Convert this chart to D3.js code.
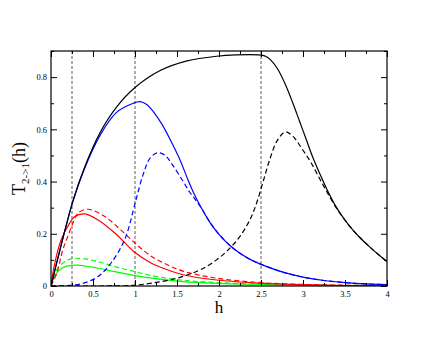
<!DOCTYPE html>
<html>
<head>
<meta charset="utf-8">
<script src="https://cdn.jsdelivr.net/npm/d3@7"></script>
<style>
  body { margin: 0; background: #fff; }
  text { font-family: "Liberation Serif", "DejaVu Serif", serif; }
</style>
</head>
<body>
<svg id="chart" width="436" height="337"></svg>
<script>
// curves: h values and T values
var hBlack = [0, 0.1, 0.26, 0.4, 0.58, 0.78, 1.0, 1.3, 1.62, 1.97, 2.2, 2.5, 2.56, 2.62, 2.7, 2.79, 2.88, 2.96, 3.04, 3.12, 3.2, 3.3, 3.4, 3.5, 3.6, 3.7, 3.8, 3.9, 4.0];
var tBlack = [0, 0.13, 0.325, 0.455, 0.585, 0.685, 0.76, 0.825, 0.862, 0.88, 0.885, 0.884, 0.879, 0.864, 0.83, 0.772, 0.7, 0.63, 0.56, 0.49, 0.43, 0.36, 0.3, 0.252, 0.212, 0.178, 0.148, 0.12, 0.094];

var hBlackDash = [0, 0.5, 0.9, 1.0, 1.18, 1.5, 1.77, 1.97, 2.13, 2.25, 2.37, 2.45, 2.53, 2.61, 2.69, 2.79, 2.88, 3.0, 3.1, 3.2, 3.3, 3.4, 3.5, 3.6, 3.7, 3.8, 3.9, 4.0];
var tBlackDash = [0, 0, 0.001, 0.003, 0.01, 0.03, 0.061, 0.1, 0.145, 0.19, 0.255, 0.32, 0.405, 0.49, 0.555, 0.59, 0.573, 0.52, 0.47, 0.41, 0.352, 0.297, 0.252, 0.212, 0.178, 0.148, 0.12, 0.094];

var hBlue = [0, 0.1, 0.26, 0.4, 0.58, 0.78, 0.98, 1.06, 1.14, 1.22, 1.32, 1.42, 1.54, 1.62, 1.7, 1.8, 1.9, 2.0, 2.13, 2.25, 2.37, 2.5, 2.77, 3.0, 3.25, 3.5, 3.75, 4.0];
var tBlue = [0, 0.13, 0.322, 0.45, 0.575, 0.665, 0.70, 0.706, 0.695, 0.667, 0.62, 0.56, 0.48, 0.415, 0.355, 0.293, 0.24, 0.198, 0.155, 0.125, 0.102, 0.083, 0.052, 0.034, 0.021, 0.013, 0.008, 0.005];

var hBlueDash = [0, 0.25, 0.4, 0.56, 0.72, 0.88, 0.98, 1.02, 1.1, 1.18, 1.27, 1.36, 1.45, 1.57, 1.65, 1.72, 1.8, 1.9, 2.0, 2.13, 2.25, 2.37, 2.5, 2.77, 3.0, 3.25, 3.5, 3.75, 4.0];
var tBlueDash = [0, 0.003, 0.012, 0.036, 0.09, 0.18, 0.29, 0.34, 0.43, 0.49, 0.51, 0.5, 0.462, 0.402, 0.36, 0.33, 0.293, 0.24, 0.198, 0.155, 0.125, 0.102, 0.083, 0.052, 0.034, 0.021, 0.013, 0.008, 0.005];

var hRed = [0, 0.04, 0.12, 0.22, 0.28, 0.4, 0.56, 0.76, 1.0, 1.18, 1.36, 1.57, 1.97, 2.49, 3.0, 3.5, 4.0];
var tRed = [0, 0.08, 0.176, 0.24, 0.265, 0.276, 0.253, 0.203, 0.128, 0.09, 0.065, 0.043, 0.023, 0.011, 0.005, 0.002, 0.001];

var hRedDash = [0, 0.07, 0.14, 0.2, 0.26, 0.32, 0.44, 0.64, 0.83, 1.0, 1.18, 1.36, 1.57, 1.97, 2.49, 3.0, 3.5, 4.0];
var tRedDash = [0, 0.05, 0.138, 0.19, 0.24, 0.279, 0.294, 0.266, 0.215, 0.164, 0.117, 0.085, 0.057, 0.03, 0.013, 0.006, 0.003, 0.0015];

var hGreen = [0, 0.04, 0.12, 0.2, 0.32, 0.56, 0.76, 1.0, 1.18, 1.57, 2.0, 2.5, 3.0, 4.0];
var tGreen = [0, 0.036, 0.066, 0.077, 0.08, 0.068, 0.055, 0.04, 0.031, 0.017, 0.01, 0.006, 0.003, 0.001];

var hGreenDash = [0, 0.08, 0.2, 0.28, 0.4, 0.56, 0.76, 1.0, 1.18, 1.57, 2.0, 2.5, 3.0, 4.0];
var tGreenDash = [0, 0.068, 0.1, 0.106, 0.104, 0.093, 0.074, 0.055, 0.041, 0.022, 0.013, 0.007, 0.004, 0.0015];

var markers = [0.25, 1, 2.5];   // vertical dashed lines
var xTicks = [0, 0.5, 1, 1.5, 2, 2.5, 3, 3.5, 4];
var xMinor = [0.25, 0.75, 1.25, 1.75, 2.25, 2.75, 3.25, 3.75];
var yTicks = [0, 0.2, 0.4, 0.6, 0.8];
var yMinor = [0.1, 0.3, 0.5, 0.7, 0.9];

var padding = {t: 51, r: 49, b: 51, l: 51};

var svg = d3.select("#chart");
var W = +svg.attr("width"), H = +svg.attr("height");
var cw = W - padding.l - padding.r;
var ch = H - padding.t - padding.b;

var x = d3.scaleLinear().domain([0, 4]).range([0, cw]);
var y = d3.scaleLinear().domain([0, 0.9]).range([ch, 0]);

var g = svg.append("g")
    .attr("transform", "translate(" + [padding.l, padding.t] + ")");

svg.append("defs").append("clipPath").attr("id", "plotclip")
  .append("rect").attr("width", cw).attr("height", ch);

// vertical markers
g.selectAll(".marker")
  .data(markers)
  .enter().append("line")
    .attr("x1", function(d) { return x(d); })
    .attr("x2", function(d) { return x(d); })
    .attr("y1", 0)
    .attr("y2", ch)
    .attr("stroke", "#333")
    .attr("stroke-width", 0.8)
    .attr("stroke-dasharray", "3,2");

var line = d3.line()
    .x(function(d) { return x(d[0]); })
    .y(function(d) { return y(d[1]); })
    .curve(d3.curveCatmullRom.alpha(0.5));

function zip(a, b) { return a.map(function(v, i) { return [v, b[i]]; }); }

var series = [
  {h: hGreenDash, t: tGreenDash, c: "#00ff00", dash: "5,3"},
  {h: hGreen, t: tGreen, c: "#00ff00", dash: null},
  {h: hRedDash, t: tRedDash, c: "#ff0000", dash: "5,3"},
  {h: hRed, t: tRed, c: "#ff0000", dash: null},
  {h: hBlueDash, t: tBlueDash, c: "#0000ff", dash: "5,3"},
  {h: hBlue, t: tBlue, c: "#0000ff", dash: null},
  {h: hBlackDash, t: tBlackDash, c: "#000000", dash: "5,3"},
  {h: hBlack, t: tBlack, c: "#000000", dash: null}
];

g.append("g").attr("clip-path", "url(#plotclip)")
  .selectAll(".curve")
  .data(series)
  .enter().append("path")
    .attr("class", "curve")
    .attr("d", function(d) { return line(zip(d.h, d.t)); })
    .attr("fill", "none")
    .attr("stroke", function(d) { return d.c; })
    .attr("stroke-width", 1.2)
    .attr("stroke-dasharray", function(d) { return d.dash; });

// axes, ticks pointing inwards
var fmt = d3.format("~g");
function styleAxis(sel) {
  sel.select(".domain").remove();
  sel.selectAll("line").attr("stroke", "#000");
  sel.selectAll("text").attr("font-size", 8.5).attr("fill", "#000")
     .attr("font-family", "Liberation Serif, serif");
}

g.append("g").attr("transform", "translate(0," + ch + ")")
  .call(d3.axisBottom(x).tickValues(xTicks).tickFormat(fmt).tickSizeInner(-6).tickSizeOuter(0).tickPadding(5))
  .call(styleAxis);
g.append("g").attr("transform", "translate(0," + ch + ")")
  .call(d3.axisBottom(x).tickValues(xMinor).tickFormat("").tickSizeInner(-3).tickSizeOuter(0))
  .call(styleAxis);
g.append("g")
  .call(d3.axisTop(x).tickValues(xTicks).tickFormat("").tickSizeInner(-6).tickSizeOuter(0))
  .call(styleAxis);
g.append("g")
  .call(d3.axisTop(x).tickValues(xMinor).tickFormat("").tickSizeInner(-3).tickSizeOuter(0))
  .call(styleAxis);

g.append("g")
  .call(d3.axisLeft(y).tickValues(yTicks).tickFormat(fmt).tickSizeInner(-6).tickSizeOuter(0).tickPadding(4))
  .call(styleAxis);
g.append("g")
  .call(d3.axisLeft(y).tickValues(yMinor).tickFormat("").tickSizeInner(-3).tickSizeOuter(0))
  .call(styleAxis);
g.append("g").attr("transform", "translate(" + cw + ",0)")
  .call(d3.axisRight(y).tickValues(yTicks).tickFormat("").tickSizeInner(-6).tickSizeOuter(0))
  .call(styleAxis);
g.append("g").attr("transform", "translate(" + cw + ",0)")
  .call(d3.axisRight(y).tickValues(yMinor).tickFormat("").tickSizeInner(-3).tickSizeOuter(0))
  .call(styleAxis);

// frame
g.append("rect")
  .attr("width", cw)
  .attr("height", ch)
  .attr("fill", "none")
  .attr("stroke", "#000")
  .attr("stroke-width", 1.2);

// axis titles
g.append("text")
  .attr("x", cw / 2)
  .attr("y", ch + 27)
  .attr("text-anchor", "middle")
  .attr("font-size", 17)
  .text("h");

var yl = g.append("text")
  .attr("transform", "translate(-26," + (ch / 2) + ") rotate(-90)")
  .attr("text-anchor", "middle")
  .attr("font-size", 18);
yl.append("tspan").text("T");
yl.append("tspan").attr("font-size", 11).attr("dy", 4).text("2->1");
yl.append("tspan").attr("dy", -4).text("(h)");
</script>
</body>
</html>
